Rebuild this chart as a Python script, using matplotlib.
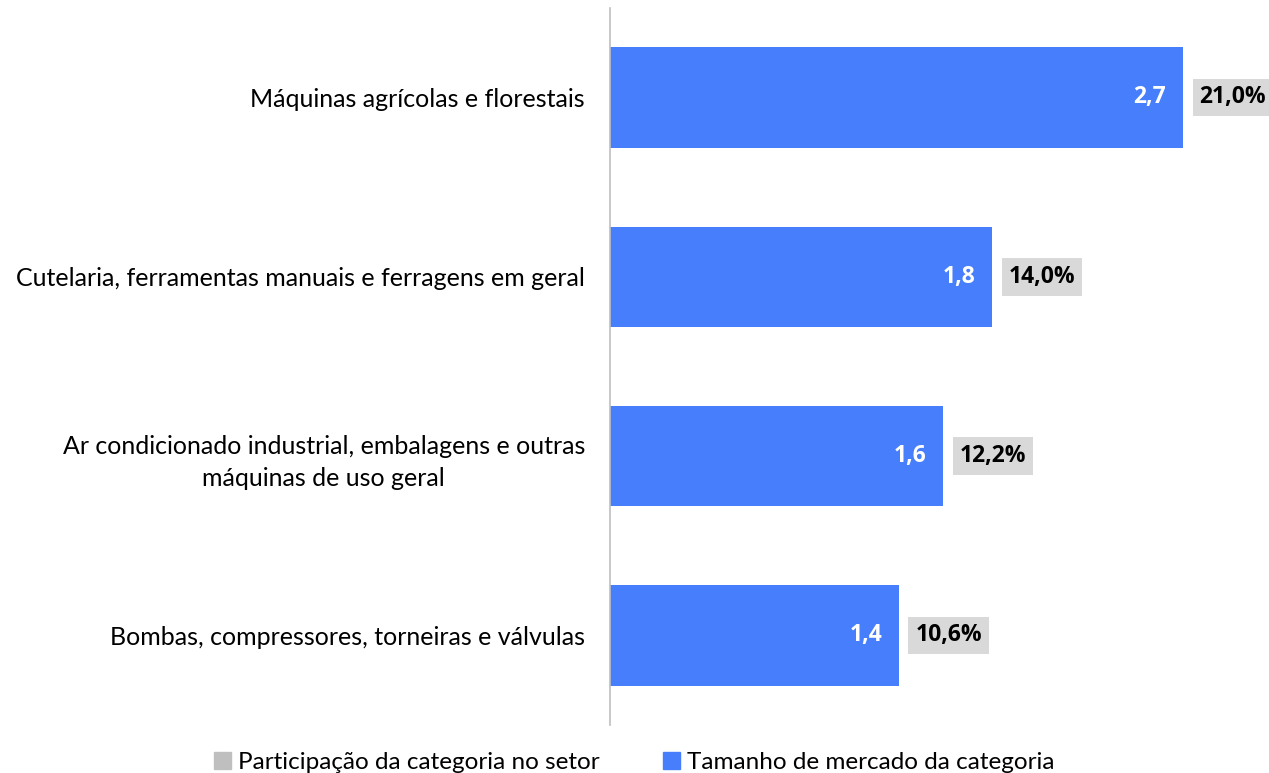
import matplotlib
matplotlib.use("Agg")
import matplotlib.pyplot as plt
from matplotlib.patches import Patch

plt.rcParams["font.family"] = ["Lato", "DejaVu Sans"]

categories = [
    "Máquinas agrícolas e florestais",
    "Cutelaria, ferramentas manuais e ferragens em geral",
    "Ar condicionado industrial, embalagens e outras\nmáquinas de uso geral",
    "Bombas, compressores, torneiras e válvulas",
]
market_size = [2.70, 1.80, 1.57, 1.36]
share_pct = [21.0, 14.0, 12.2, 10.6]

BLUE = "#477EFC"
GREY_BOX = "#D9D9D9"
GREY_LEG = "#BFBFBF"
FONT_SIZE = 18
NUM_SIZE = 16.5
NUM_FONT = ["Open Sans", "DejaVu Sans"]

fig = plt.figure(figsize=(12.69, 7.73), dpi=100)
ax = fig.add_axes([0.4807, 0.062, 0.5017, 0.928])

y = list(range(len(categories)))
ax.barh(y, market_size, height=0.56, color=BLUE)

for yi, v, p in zip(y, market_size, share_pct):
    ax.annotate(f"{v:.1f}".replace(".", ","), (v, yi), xytext=(-12, 0),
                textcoords="offset points", ha="right", va="center",
                color="white", fontweight="bold", fontsize=NUM_SIZE, family=NUM_FONT)
    ax.annotate(f"{p:.1f}%".replace(".", ","), (v, yi), xytext=(12, 0),
                textcoords="offset points", ha="left", va="center",
                color="black", fontweight="bold", fontsize=NUM_SIZE, family=NUM_FONT,
                bbox=dict(boxstyle="square,pad=0.3", fc=GREY_BOX, ec="none"))

ax.set_ylim(3.5, -0.5)
ax.set_xlim(0, 3.0)
ax.set_yticks(y)
ax.set_yticklabels(categories, fontsize=FONT_SIZE, ha="right",
                   multialignment="center", linespacing=1.45)
ax.tick_params(axis="y", length=0, pad=18)
ax.set_xticks([])
for s in ["top", "right", "bottom"]:
    ax.spines[s].set_visible(False)
ax.spines["left"].set_color("#BFBFBF")
ax.spines["left"].set_linewidth(1.2)

handles = [Patch(color=GREY_LEG), Patch(color=BLUE)]
fig.legend(handles, ["Participação da categoria no setor", "Tamanho de mercado da categoria"],
           loc="lower center", bbox_to_anchor=(0.5, -0.028), ncol=2, frameon=False,
           prop={"family": ["Liberation Sans Narrow", "Lato"], "size": 17.5},
           handlelength=0.7, handleheight=0.7, handletextpad=0.3,
           columnspacing=2.6)

fig.savefig("out.png", dpi=100)
